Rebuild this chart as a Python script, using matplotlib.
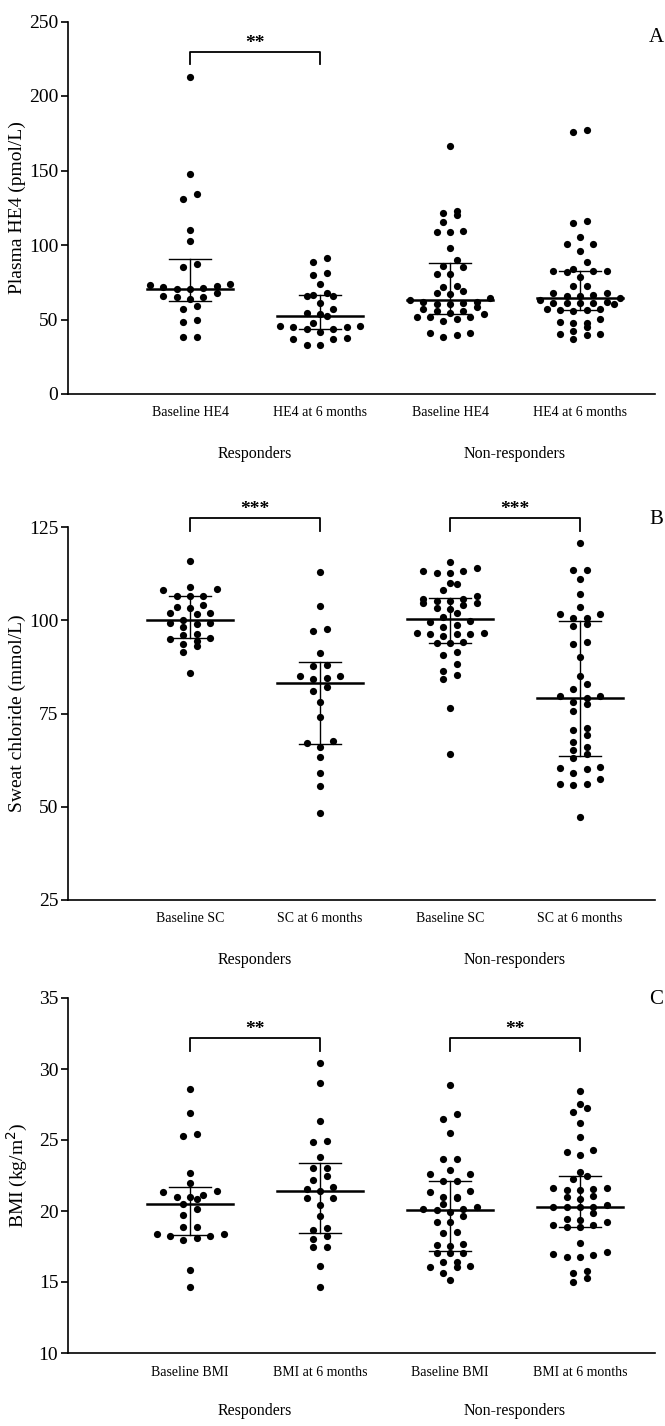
import numpy as np
import matplotlib
matplotlib.use("Agg")
import matplotlib.pyplot as plt
from matplotlib.transforms import blended_transform_factory

plt.rcParams["font.family"] = ["Liberation Serif", "DejaVu Serif"]

# ── data ─────────────────────────────────────────────────────────────────────
groups = ["Responders", "Non-responders"]

he4_ticks = ["Baseline HE4", "HE4 at 6 months", "Baseline HE4", "HE4 at 6 months"]
he4_resp_base = [213.0, 147.4, 134.0, 130.7, 110.1, 102.7, 87.0, 85.4, 73.6, 73.2, 72.5,
                 71.6, 70.9, 70.3, 70.3, 68.0, 65.8, 65.3, 64.9, 63.6, 59.1, 56.8, 49.7,
                 48.5, 38.5, 38.5]
he4_resp_6m = [91.1, 88.8, 81.4, 79.9, 73.6, 68.0, 66.4, 65.8, 65.8, 61.3, 56.8, 54.2, 53.5,
               52.3, 47.9, 45.6, 45.6, 45.0, 44.8, 43.4, 43.4, 41.8, 37.4, 36.7, 36.7, 32.9,
               32.9]
he4_non_base = [166.7, 123.0, 121.3, 120.1, 115.6, 109.6, 108.9, 108.9, 98.2, 89.9, 86.1,
                85.0, 80.5, 80.5, 72.7, 72.0, 69.3, 67.6, 67.1, 64.2, 63.1, 61.9, 61.9, 60.8,
                60.2, 60.2, 58.6, 56.8, 55.7, 55.7, 54.2, 53.7, 51.9, 51.9, 51.5, 50.1, 49.0,
                40.7, 40.7, 39.6, 38.5]
he4_non_6m = [177.0, 176.0, 116.3, 115.0, 105.2, 100.4, 100.4, 96.2, 88.4, 83.9, 82.8, 82.6,
              82.6, 82.1, 78.3, 72.5, 72.5, 68.0, 67.6, 66.4, 66.0, 66.0, 64.2, 63.1, 61.9,
              61.3, 61.3, 61.3, 60.8, 60.4, 57.0, 56.8, 56.4, 56.4, 55.9, 50.1, 48.1, 47.9,
              47.4, 45.2, 42.5, 40.3, 40.1, 39.6, 36.9]

sc_ticks = ["Baseline SC", "SC at 6 months", "Baseline SC", "SC at 6 months"]
sc_resp_base = [116.0, 108.8, 108.3, 108.1, 106.5, 106.5, 106.5, 104.1, 103.6, 103.2, 102.0,
                102.0, 101.6, 100.1, 99.2, 99.2, 99.0, 98.1, 96.3, 96.0, 95.2, 95.0, 94.5,
                93.6, 93.1, 91.6, 85.8]
sc_resp_6m = [113.0, 103.9, 97.6, 97.1, 91.1, 88.1, 87.7, 85.1, 85.1, 84.6, 84.2, 82.0, 81.1,
              78.1, 74.0, 67.7, 67.2, 66.1, 63.3, 59.1, 55.6, 48.2]
sc_non_base = [115.7, 114.1, 113.3, 113.3, 112.6, 112.6, 110.1, 109.6, 108.1, 106.6, 105.7,
               105.7, 105.2, 105.2, 104.7, 104.5, 104.1, 103.2, 102.9, 102.0, 100.9, 99.9,
               99.6, 98.7, 98.1, 96.7, 96.7, 96.3, 96.3, 96.2, 95.8, 94.1, 93.8, 93.8, 91.6,
               90.7, 88.3, 86.5, 85.3, 84.2, 76.6, 64.1]
sc_non_6m = [120.6, 113.6, 113.6, 111.0, 107.0, 103.5, 101.6, 101.6, 100.7, 100.7, 99.0, 98.5,
             94.1, 93.6, 90.1, 85.1, 82.8, 81.6, 79.8, 79.8, 79.1, 78.2, 77.6, 75.7, 71.0,
             70.7, 69.2, 67.3, 66.1, 65.2, 64.1, 63.1, 60.7, 60.3, 60.2, 59.1, 57.4, 56.2,
             56.2, 55.7, 47.2]

bmi_ticks = ["Baseline BMI", "BMI at 6 months", "Baseline BMI", "BMI at 6 months"]
bmi_resp_base = [28.57, 26.88, 25.42, 25.30, 22.70, 21.99, 21.43, 21.36, 21.11, 21.01, 21.01,
                 20.82, 20.47, 20.14, 19.74, 18.89, 18.85, 18.38, 18.38, 18.26, 18.26, 18.08,
                 17.96, 15.85, 14.63]
bmi_resp_6m = [30.44, 28.99, 26.36, 24.95, 24.88, 23.82, 23.01, 23.01, 22.46, 22.18, 21.71,
               21.57, 21.43, 20.89, 20.89, 20.42, 19.65, 18.78, 18.66, 18.26, 18.00, 17.49,
               17.49, 16.15, 14.63]
bmi_non_base = [28.87, 26.81, 26.48, 25.51, 23.64, 23.64, 22.89, 22.61, 22.61, 22.14, 22.14,
                21.43, 21.36, 21.01, 21.01, 20.89, 20.49, 20.26, 20.12, 20.12, 20.07, 19.95,
                19.65, 19.25, 19.25, 18.54, 18.43, 17.68, 17.61, 17.54, 17.06, 17.06, 17.02,
                16.43, 16.43, 16.13, 16.08, 16.08, 15.65, 15.14]
bmi_non_6m = [28.45, 27.54, 27.23, 26.95, 26.18, 25.19, 24.30, 24.13, 23.94, 22.77, 22.49,
              22.23, 21.64, 21.64, 21.53, 21.48, 21.48, 21.08, 21.01, 20.82, 20.42, 20.30,
              20.26, 20.26, 20.26, 19.84, 19.42, 19.37, 19.25, 19.01, 19.01, 18.85, 18.85,
              17.73, 17.14, 16.97, 16.90, 16.78, 16.78, 15.80, 15.61, 15.26, 15.02]

# ── layout ───────────────────────────────────────────────────────────────────
W, H = 665, 1426
fig = plt.figure(figsize=(W / 100, H / 100), dpi=100, facecolor="white")

LEFT, RIGHT = 68, 655   # px
X0, DX = 190, 130       # px of first group, px between groups


def add_ax(top_px, bot_px):
    return fig.add_axes([LEFT / W, 1 - bot_px / H, (RIGHT - LEFT) / W, (bot_px - top_px) / H])


def swarm(ax, pos, vals, dot_px=7.2, step_px=6.7):
    """prism-like rows: near-equal values spread sideways, centred on pos"""
    bb = ax.get_window_extent()
    y0, y1 = ax.get_ylim()
    x0, x1 = ax.get_xlim()
    ppy = bb.height / (y1 - y0)
    ppx = bb.width / (x1 - x0)
    v = np.sort(np.asarray(vals, float))
    xs, ys = [], []
    i = 0
    while i < len(v):
        j = i
        while j + 1 < len(v) and (v[j + 1] - v[i]) * ppy < dot_px:
            j += 1
        k = j - i + 1
        offs = (np.arange(k) - (k - 1) / 2) * 2 * step_px / ppx
        order = np.argsort(np.abs(offs), kind="stable")
        for n, idx in enumerate(order):
            xs.append(pos + offs[idx])
            ys.append(v[i + n])
        i = j + 1
    return np.array(xs), np.array(ys)


def panel(ax, data, ticks, ylim, yticks, ylabel, letter, letter_y, brackets):
    ax.set_xlim(-(X0 - LEFT) / DX, 3 + (RIGHT - X0 - 3 * DX) / DX)
    ax.set_ylim(*ylim)
    for s in ("top", "right"):
        ax.spines[s].set_visible(False)
    for s in ("left", "bottom"):
        ax.spines[s].set_linewidth(1.2)
    ax.set_yticks(yticks)
    ax.tick_params(axis="y", direction="out", length=5, width=1.2, labelsize=14, pad=2)
    ax.set_xticks(range(4))
    ax.set_xticklabels(ticks, fontsize=10)
    ax.tick_params(axis="x", length=0, pad=9)

    bb = ax.get_position()
    fig.text(17 / W, (bb.y0 + bb.y1) / 2, ylabel, rotation=90, ha="center", va="center",
             fontsize=14)

    for p, vals in enumerate(data):
        xs, ys = swarm(ax, p, vals)
        ax.scatter(xs, ys, s=27, color="black", lw=0, zorder=3)
        q1, med, q3 = np.percentile(vals, [25, 50, 75], method="weibull")
        ax.plot([p - 0.33, p + 0.33], [med, med], color="black", lw=1.8, zorder=4)
        ax.plot([p, p], [q1, q3], color="black", lw=1.0, zorder=4)
        for q in (q1, q3):
            ax.plot([p - 0.165, p + 0.165], [q, q], color="black", lw=1.0, zorder=4)

    tr = blended_transform_factory(ax.transData, ax.transAxes)
    ax.text(0.5, -0.14, groups[0], transform=tr, ha="center", va="top", fontsize=11.5)
    ax.text(2.5, -0.14, groups[1], transform=tr, ha="center", va="top", fontsize=11.5)
    fig.text(656 / W, 1 - letter_y / H, letter, ha="center", va="center", fontsize=15)

    for a, b, y, drop, stars in brackets:
        ax.plot([a, a, b, b], [y - drop, y, y, y - drop], color="black", lw=1.3, clip_on=False)
        ax.text((a + b) / 2, y, stars, ha="center", va="bottom", fontsize=14,
                fontweight="bold", clip_on=False)


# ── panel A ──────────────────────────────────────────────────────────────────
ax_a = add_ax(21.5, 394)
panel(ax_a, [he4_resp_base, he4_resp_6m, he4_non_base, he4_non_6m], he4_ticks,
      (0, 250), [0, 50, 100, 150, 200, 250], "Plasma HE4 (pmol/L)", "A", 38,
      [(0, 1, 229.7, 8.4, "**")])

# ── panel B ──────────────────────────────────────────────────────────────────
ax_b = add_ax(527, 900)
panel(ax_b, [sc_resp_base, sc_resp_6m, sc_non_base, sc_non_6m], sc_ticks,
      (25, 125), [25, 50, 75, 100, 125], "Sweat chloride (mmol/L)", "B", 520,
      [(0, 1, 127.3, 3.5, "***"), (2, 3, 127.3, 3.5, "***")])

# ── panel C ──────────────────────────────────────────────────────────────────
ax_c = add_ax(998, 1353)
panel(ax_c, [bmi_resp_base, bmi_resp_6m, bmi_non_base, bmi_non_6m], bmi_ticks,
      (10, 35), [10, 15, 20, 25, 30, 35], "BMI (kg/m$^2$)", "C", 1000,
      [(0, 1, 32.2, 0.9, "**"), (2, 3, 32.2, 0.9, "**")])

fig.savefig("out.png", dpi=100, facecolor="white")
